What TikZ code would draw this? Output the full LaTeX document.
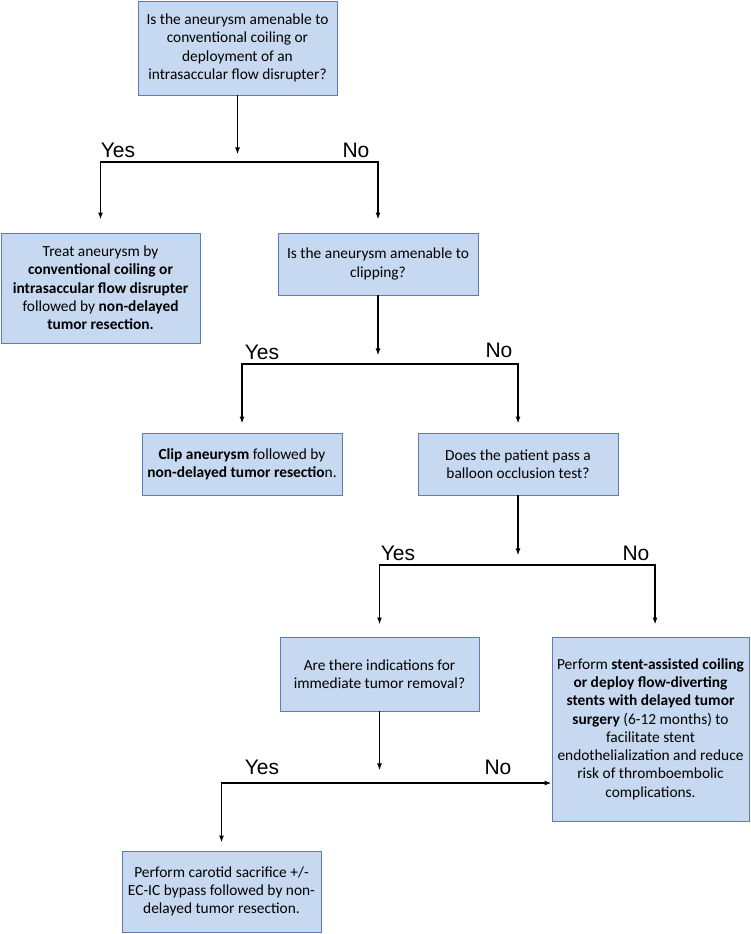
\documentclass[tikz,border=0pt]{standalone}
\usepackage{fontspec}
\setmainfont{Carlito}
\newfontfamily\arialf{Liberation Sans}
\usetikzlibrary{arrows.meta}
\definecolor{boxfill}{HTML}{C6D9F1}
\definecolor{boxline}{HTML}{5A7DB5}
\begin{document}
\begin{tikzpicture}[x=1pt,y=-1pt,
  box/.style={draw=boxline, fill=boxfill, line width=0.9pt, align=center, inner sep=1pt,
    font=\fontsize{15.4}{18.3}\selectfont},
  conn/.style={line width=1.6pt, black},
  arr/.style={conn, -{Latex[length=7pt,width=5pt]}},
  lab/.style={font=\arialf\fontsize{21}{24}\selectfont, inner sep=0pt}]
\useasboundingbox (0,0) rectangle (750,934);

% nodes
\node[box, minimum width=199pt, minimum height=94pt] (q1) at (237.5,48)
  {Is the aneurysm amenable to\\conventional coiling or\\deployment of an\\intrasaccular flow disrupter?};
\node[box, minimum width=199pt, minimum height=110pt] (treat) at (100.5,288)
  {Treat aneurysm by\\\textbf{conventional coiling or}\\\textbf{intrasaccular flow disrupter}\\followed by \textbf{non-delayed}\\\textbf{tumor resection.}};
\node[box, minimum width=200pt, minimum height=62pt] (q2) at (378,264)
  {Is the aneurysm amenable to\\clipping?};
\node[box, minimum width=200pt, minimum height=62pt] (clip) at (242,464)
  {\textbf{Clip aneurysm} followed by\\\textbf{non-delayed tumor resectio}n.};
\node[box, minimum width=200pt, minimum height=62pt] (balloon) at (518,464)
  {Does the patient pass a\\balloon occlusion test?};
\node[box, minimum width=199pt, minimum height=74pt] (ind) at (379.5,674)
  {Are there indications for\\immediate tumor removal?};
\node[box, minimum width=197pt, minimum height=184pt] (stent) at (650.5,729)
  {Perform \textbf{stent-assisted coiling}\\\textbf{or deploy flow-diverting}\\\textbf{stents with delayed tumor}\\\textbf{surgery} (6-12 months) to\\facilitate stent\\endothelialization and reduce\\risk of thromboembolic\\complications.};
\node[box, minimum width=199pt, minimum height=81pt] (carotid) at (221.5,891.5)
  {Perform carotid sacrifice +/-\\EC-IC bypass followed by non-\\delayed tumor resection.};

% level 1
\coordinate (b1) at (238,162);
\draw[arr] (q1.south) -- ++(0,59);
\draw[arr, shorten >=13pt] (b1) -| (treat.north);
\draw[arr, shorten >=13pt] (b1) -| (q2.north);
\node[lab] (y1) at (118,150) {Yes};
\node[lab] (n1) at (356,150) {No};

% level 2
\coordinate (b2) at (378,364);
\draw[arr] (q2.south) -- ++(0,60);
\draw[arr, shorten >=9pt] (b2) -| (clip.north);
\draw[arr, shorten >=9pt] (b2) -| (balloon.north);
\node[lab] (y2) at (262,352) {Yes};
\node[lab] (n2) at (499,350) {No};

% level 3
\coordinate (b3) at (519,565);
\draw[arr] (balloon.south) -- ++(0,60);
\draw[arr, shorten >=12pt] (b3) -| (ind.north);
\draw[arr, shorten >=12pt] (b3) -| ([xshift=4.5pt]stent.north);
\node[lab] (y3) at (398,553) {Yes};
\node[lab] (n3) at (636,553) {No};

% level 4
\coordinate (b4) at (379.5,783);
\draw[arr] (ind.south) -- ++(0,59);
\draw[arr, shorten >=8pt] (b4) -| (carotid.north);
\draw[arr] (b4) -- (b4 -| stent.west);
\node[lab] (y4) at (262,767) {Yes};
\node[lab] (n4) at (498,767) {No};
\end{tikzpicture}
\end{document}
